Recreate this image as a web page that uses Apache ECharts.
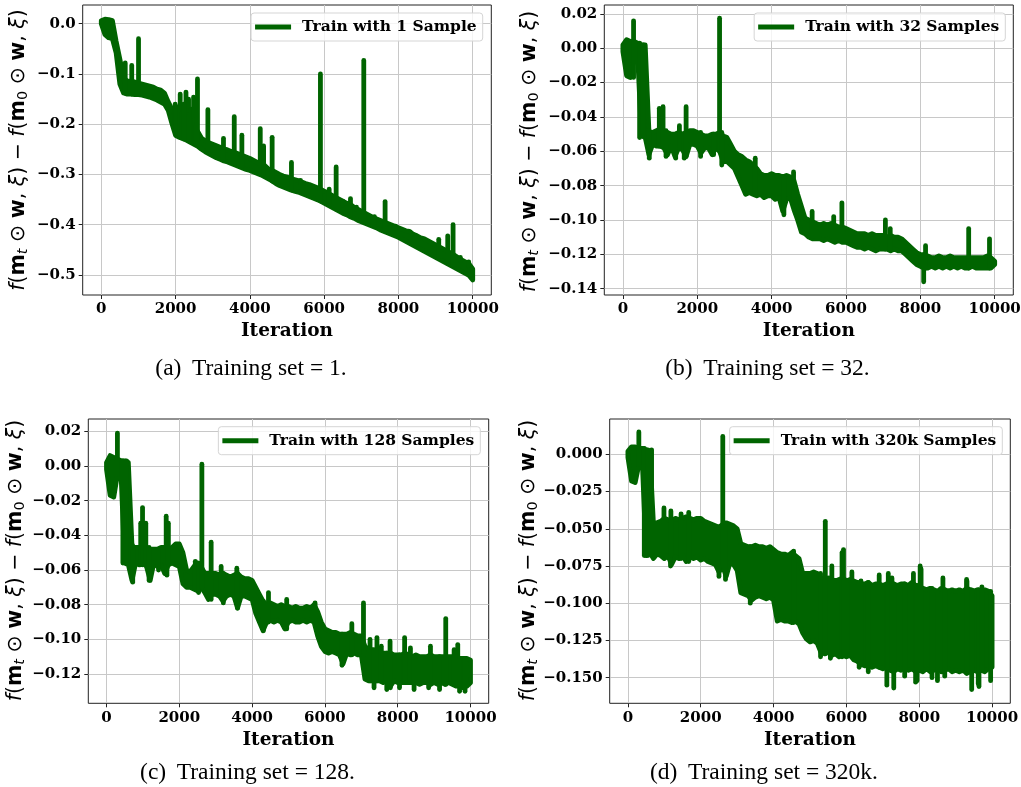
<!DOCTYPE html>
<html>
<head>
<meta charset="utf-8">
<script src="https://cdn.jsdelivr.net/npm/echarts@6/dist/echarts.min.js"></script>
<style>
  html, body { margin: 0; padding: 0; background: #fff; }
  #chart { width: 1021px; height: 787px; }
</style>
</head>
<body>
<div id="chart"></div>
<script>
// loss curves sampled every 100 iterations: upper / lower edge of the noisy band,
// plus single-iteration spikes as [iteration, value]
const iterStep = 100;
const xTicks = [0, 2000, 4000, 6000, 8000, 10000];

const seriesNames = ['Train with 1 Sample', 'Train with 32 Samples', 'Train with 128 Samples', 'Train with 320k Samples'];
const captions = ['(a) \u2009Training set = 1.', '(b) \u2009Training set = 32.', '(c) \u2009Training set = 128.', '(d) \u2009Training set = 320k.'];

const yTicksA = [-0.5, -0.4, -0.3, -0.2, -0.1, 0];
const yTicksB = [-0.14, -0.12, -0.1, -0.08, -0.06, -0.04, -0.02, 0, 0.02];
const yTicksC = [-0.12, -0.1, -0.08, -0.06, -0.04, -0.02, 0, 0.02];
const yTicksD = [-0.15, -0.125, -0.1, -0.075, -0.05, -0.025, 0];

const upperA = [
  0.006, 0.009, 0.008, 0.006, -0.035, -0.07, -0.108, -0.114, -0.115, -0.116,
  -0.118, -0.12, -0.122, -0.124, -0.126, -0.13, -0.132, -0.138, -0.155, -0.17,
  -0.178, -0.182, -0.186, -0.19, -0.195, -0.203, -0.215, -0.228, -0.233, -0.237,
  -0.24, -0.243, -0.246, -0.249, -0.251, -0.254, -0.256, -0.259, -0.262, -0.265,
  -0.268, -0.272, -0.276, -0.28, -0.282, -0.289, -0.292, -0.296, -0.3, -0.303,
  -0.305, -0.308, -0.31, -0.312, -0.315, -0.318, -0.32, -0.323, -0.326, -0.329,
  -0.333, -0.337, -0.341, -0.345, -0.349, -0.353, -0.357, -0.359, -0.365, -0.369,
  -0.373, -0.377, -0.381, -0.385, -0.388, -0.391, -0.394, -0.397, -0.4, -0.403,
  -0.406, -0.409, -0.412, -0.413, -0.419, -0.422, -0.426, -0.428, -0.432, -0.436,
  -0.44, -0.444, -0.448, -0.452, -0.456, -0.46, -0.465, -0.47, -0.474, -0.478,
  -0.488
];
const lowerA = [
  0.0, -0.022, -0.028, -0.03, -0.058, -0.12, -0.138, -0.14, -0.14, -0.141,
  -0.141, -0.142, -0.144, -0.146, -0.149, -0.152, -0.156, -0.16, -0.172, -0.198,
  -0.222, -0.226, -0.229, -0.232, -0.236, -0.24, -0.244, -0.25, -0.255, -0.259,
  -0.263, -0.267, -0.27, -0.273, -0.275, -0.278, -0.281, -0.284, -0.287, -0.29,
  -0.292, -0.295, -0.298, -0.301, -0.305, -0.309, -0.313, -0.318, -0.322, -0.325,
  -0.328, -0.331, -0.333, -0.335, -0.338, -0.341, -0.344, -0.347, -0.35, -0.353,
  -0.357, -0.361, -0.365, -0.369, -0.373, -0.377, -0.38, -0.384, -0.387, -0.391,
  -0.394, -0.397, -0.4, -0.403, -0.406, -0.41, -0.413, -0.416, -0.419, -0.422,
  -0.425, -0.429, -0.433, -0.437, -0.441, -0.445, -0.449, -0.453, -0.457, -0.461,
  -0.465, -0.469, -0.473, -0.477, -0.481, -0.485, -0.489, -0.493, -0.497, -0.501,
  -0.51
];
const spikesA = [
  [645, -0.078], [820, -0.083], [1003, -0.03], [1990, -0.16], [2020, -0.165], [2050, -0.17],
  [2125, -0.14], [2180, -0.175], [2220, -0.16], [2280, -0.136], [2350, -0.15], [2380, -0.18],
  [2420, -0.17], [2485, -0.146], [2530, -0.19], [2560, -0.2], [2590, -0.11], [2650, -0.215],
  [2870, -0.171], [3290, -0.228], [3580, -0.185], [3785, -0.222], [4280, -0.209], [4370, -0.243],
  [4600, -0.226], [5120, -0.276], [5363, -0.316], [5900, -0.1], [6135, -0.329], [6323, -0.285],
  [6502, -0.362], [6709, -0.348], [6870, -0.369], [7067, -0.073], [7354, -0.384], [7641, -0.354],
  [7919, -0.407], [9085, -0.429], [9327, -0.422], [9471, -0.4], [9668, -0.472], [9892, -0.482]
];

const upperB = [
  0.002, 0.005, 0.004, 0.004, 0.003, 0.002, 0.002, -0.048, -0.049, -0.048,
  -0.047, -0.048, -0.049, -0.05, -0.05, -0.049, -0.05, -0.049, -0.048, -0.048,
  -0.049, -0.05, -0.051, -0.051, -0.05, -0.05, -0.049, -0.051, -0.052, -0.056,
  -0.06, -0.062, -0.063, -0.065, -0.066, -0.068, -0.07, -0.073, -0.074, -0.074,
  -0.073, -0.074, -0.074, -0.075, -0.074, -0.075, -0.077, -0.085, -0.092, -0.099,
  -0.1, -0.101, -0.102, -0.103, -0.102, -0.103, -0.102, -0.103, -0.104, -0.104,
  -0.105, -0.106, -0.107, -0.108, -0.108, -0.108, -0.109, -0.108, -0.109, -0.109,
  -0.109, -0.11, -0.109, -0.11, -0.11, -0.111, -0.113, -0.115, -0.117, -0.119,
  -0.12, -0.121, -0.121, -0.122, -0.122, -0.121, -0.122, -0.122, -0.121, -0.122,
  -0.122, -0.122, -0.122, -0.122, -0.122, -0.122, -0.122, -0.122, -0.121, -0.122,
  -0.124
];
const lowerB = [
  -0.002, -0.016, -0.017, -0.006, -0.006, -0.051, -0.052, -0.062, -0.056, -0.057,
  -0.057, -0.058, -0.062, -0.057, -0.063, -0.058, -0.059, -0.063, -0.056, -0.056,
  -0.057, -0.061, -0.058, -0.058, -0.062, -0.058, -0.06, -0.066, -0.066, -0.068,
  -0.07, -0.075, -0.08, -0.085, -0.084, -0.085, -0.086, -0.085, -0.087, -0.086,
  -0.086, -0.088, -0.087, -0.095, -0.088, -0.087, -0.094, -0.1, -0.107, -0.108,
  -0.11, -0.111, -0.111, -0.111, -0.112, -0.111, -0.112, -0.113, -0.112, -0.113,
  -0.113, -0.114, -0.115, -0.116, -0.116, -0.117, -0.116, -0.117, -0.118, -0.117,
  -0.117, -0.117, -0.118, -0.117, -0.118, -0.118, -0.12, -0.122, -0.124, -0.126,
  -0.127, -0.128, -0.128, -0.127, -0.128, -0.127, -0.128, -0.127, -0.128, -0.127,
  -0.128, -0.127, -0.128, -0.128, -0.127, -0.128, -0.128, -0.128, -0.128, -0.128,
  -0.126
];
const spikesB = [
  [287, 0.016], [450, -0.052], [550, -0.05], [650, 0.002], [710, -0.064], [980, -0.035],
  [1080, -0.034], [1160, -0.063], [1420, -0.064], [1520, -0.045], [1650, -0.064], [1700, -0.034],
  [2090, -0.063], [2440, -0.062], [2600, 0.0175], [2660, -0.068], [3560, -0.064], [4330, -0.097],
  [4590, -0.072], [5090, -0.095], [5670, -0.098], [5890, -0.09], [7060, -0.1], [7190, -0.105],
  [8090, -0.136], [8140, -0.115], [9300, -0.105], [9860, -0.111]
];

const upperC = [
  0.002, 0.006, 0.005, 0.004, 0.003, 0.003, 0.002, -0.046, -0.047, -0.047,
  -0.048, -0.047, -0.048, -0.048, -0.048, -0.047, -0.047, -0.048, -0.047, -0.045,
  -0.045, -0.05, -0.06, -0.061, -0.058, -0.056, -0.058, -0.062, -0.062, -0.062,
  -0.062, -0.063, -0.062, -0.063, -0.064, -0.063, -0.062, -0.064, -0.065, -0.065,
  -0.066, -0.07, -0.074, -0.078, -0.08, -0.079, -0.08, -0.081, -0.08, -0.081,
  -0.081, -0.082, -0.081, -0.082, -0.082, -0.081, -0.082, -0.08, -0.084, -0.09,
  -0.094, -0.095, -0.096, -0.096, -0.097, -0.097, -0.097, -0.096, -0.097, -0.098,
  -0.098, -0.104, -0.106, -0.106, -0.107, -0.108, -0.108, -0.108, -0.108, -0.109,
  -0.109, -0.109, -0.108, -0.109, -0.11, -0.109, -0.11, -0.11, -0.11, -0.109,
  -0.11, -0.11, -0.11, -0.11, -0.11, -0.11, -0.111, -0.111, -0.111, -0.111,
  -0.112
];
const lowerC = [
  -0.002, -0.017, -0.018, -0.005, -0.005, -0.056, -0.057, -0.066, -0.056, -0.057,
  -0.056, -0.058, -0.066, -0.056, -0.058, -0.057, -0.062, -0.057, -0.056, -0.057,
  -0.058, -0.068, -0.07, -0.07, -0.071, -0.072, -0.07, -0.073, -0.077, -0.074,
  -0.074, -0.075, -0.078, -0.075, -0.074, -0.075, -0.082, -0.075, -0.075, -0.076,
  -0.077, -0.085, -0.09, -0.095, -0.09, -0.089, -0.09, -0.089, -0.09, -0.094,
  -0.09, -0.089, -0.09, -0.09, -0.089, -0.09, -0.089, -0.09, -0.098, -0.104,
  -0.107, -0.108, -0.107, -0.108, -0.109, -0.114, -0.108, -0.109, -0.108, -0.109,
  -0.109, -0.123, -0.124, -0.124, -0.124, -0.124, -0.125, -0.124, -0.127, -0.124,
  -0.125, -0.125, -0.125, -0.125, -0.125, -0.125, -0.126, -0.125, -0.125, -0.126,
  -0.125, -0.126, -0.125, -0.126, -0.125, -0.126, -0.127, -0.126, -0.128, -0.127,
  -0.125
];
const spikesC = [
  [300, 0.019], [450, -0.056], [550, -0.056], [650, 0.002], [720, -0.067], [940, -0.033],
  [990, -0.024], [1080, -0.033], [1170, -0.066], [1430, -0.06], [1640, -0.029], [1660, -0.063],
  [1700, -0.033], [2440, -0.055], [2530, -0.073], [2620, 0.001], [2875, -0.044], [3150, -0.058],
  [3210, -0.079], [3580, -0.059], [3600, -0.082], [4310, -0.095], [4450, -0.073], [4950, -0.077],
  [5730, -0.079], [6470, -0.115], [6740, -0.091], [7060, -0.079], [7240, -0.1], [7350, -0.128],
  [7430, -0.099], [7550, -0.104], [7700, -0.129], [7790, -0.101], [7800, -0.128], [8050, -0.128],
  [8190, -0.099], [8350, -0.105], [8450, -0.129], [8850, -0.128], [8900, -0.104], [9150, -0.129],
  [9320, -0.088], [9550, -0.106], [9650, -0.103], [9700, -0.13], [9850, -0.13]
];

const upperD = [
  0.002, 0.005, 0.005, 0.004, 0.004, 0.003, 0.002, -0.046, -0.046, -0.045,
  -0.043, -0.044, -0.045, -0.043, -0.044, -0.043, -0.042, -0.043, -0.044, -0.043,
  -0.043, -0.045, -0.046, -0.047, -0.048, -0.049, -0.047, -0.046, -0.047, -0.048,
  -0.05, -0.06, -0.061, -0.062, -0.062, -0.061, -0.062, -0.062, -0.063, -0.062,
  -0.064, -0.066, -0.067, -0.067, -0.068, -0.066, -0.068, -0.07, -0.08, -0.08,
  -0.08, -0.079, -0.08, -0.083, -0.084, -0.083, -0.084, -0.085, -0.084, -0.083,
  -0.085, -0.084, -0.085, -0.086, -0.087, -0.087, -0.086, -0.088, -0.087, -0.087,
  -0.088, -0.087, -0.088, -0.087, -0.088, -0.087, -0.087, -0.088, -0.086, -0.088,
  -0.089, -0.09, -0.091, -0.09, -0.091, -0.092, -0.09, -0.091, -0.092, -0.091,
  -0.092, -0.091, -0.092, -0.09, -0.091, -0.092, -0.091, -0.092, -0.091, -0.092,
  -0.095
];
const lowerD = [
  -0.002, -0.018, -0.019, -0.007, -0.008, -0.068, -0.066, -0.07, -0.067, -0.068,
  -0.07, -0.068, -0.074, -0.069, -0.07, -0.068, -0.072, -0.069, -0.07, -0.069,
  -0.071, -0.07, -0.072, -0.073, -0.074, -0.079, -0.075, -0.082, -0.073, -0.074,
  -0.078, -0.093, -0.094, -0.095, -0.098, -0.096, -0.095, -0.096, -0.097, -0.096,
  -0.098, -0.112, -0.111, -0.112, -0.112, -0.113, -0.112, -0.114, -0.12, -0.124,
  -0.126, -0.125, -0.127, -0.133, -0.134, -0.133, -0.135, -0.134, -0.136, -0.135,
  -0.136, -0.135, -0.138, -0.139, -0.141, -0.142, -0.14, -0.143, -0.142, -0.143,
  -0.144, -0.143, -0.145, -0.146, -0.144, -0.145, -0.143, -0.145, -0.144, -0.146,
  -0.145, -0.146, -0.144, -0.146, -0.145, -0.144, -0.146, -0.145, -0.144, -0.146,
  -0.145, -0.146, -0.145, -0.147, -0.146, -0.145, -0.146, -0.145, -0.146, -0.144,
  -0.143
];
const spikesD = [
  [300, 0.015], [450, -0.068], [550, -0.068], [650, 0.003], [990, -0.036], [1170, -0.075],
  [1180, -0.038], [1460, -0.04], [1670, -0.039], [2500, -0.082], [2605, 0.012], [2680, -0.084],
  [3360, -0.1], [4550, -0.065], [5290, -0.136], [5420, -0.045], [5560, -0.137], [5600, -0.075],
  [5880, -0.066], [5920, -0.064], [6150, -0.079], [6350, -0.143], [6400, -0.085], [6600, -0.146],
  [6900, -0.081], [7110, -0.155], [7150, -0.08], [7250, -0.083], [7300, -0.157], [7600, -0.149],
  [7840, -0.08], [7900, -0.153], [7940, -0.152], [8025, -0.075], [8050, -0.077], [8350, -0.15],
  [8500, -0.152], [8650, -0.083], [8700, -0.149], [9300, -0.084], [9310, -0.085], [9440, -0.158],
  [9620, -0.154], [9640, -0.156], [9720, -0.089], [9960, -0.152]
];

const panels = [
  { upper: upperA, lower: lowerA, spikes: spikesA, yTicks: yTicksA, yMin: -0.5398, yMax: 0.0372, dec: 1 },
  { upper: upperB, lower: lowerB, spikes: spikesB, yTicks: yTicksB, yMin: -0.1437, yMax: 0.0252, dec: 2 },
  { upper: upperC, lower: lowerC, spikes: spikesC, yTicks: yTicksC, yMin: -0.1369, yMax: 0.0271, dec: 2 },
  { upper: upperD, lower: lowerD, spikes: spikesD, yTicks: yTicksD, yMin: -0.1672, yMax: 0.0237, dec: 3 }
];

const grids = [
  { left: 82.7, top: 5, width: 408.6, height: 290 },
  { left: 604.3, top: 5, width: 409, height: 290 },
  { left: 88.3, top: 419, width: 400.4, height: 284.3 },
  { left: 609.7, top: 419, width: 400.6, height: 284.3 }
];
const legendPos = [
  { right: 538.3, top: 13 },
  { right: 15.7, top: 13 },
  { right: 540.7, top: 426.7 },
  { right: 18.7, top: 426.7 }
];
const yLabelPos = [[19, 150], [529.5, 151.5], [16, 560.5], [529, 560.5]];
const captionPos = [[251, 369], [767.5, 369], [247.5, 773], [764, 773]];

const GREEN = '#006400';
const LINE_W = 4.8;
const tickFont = { fontFamily: 'DejaVu Serif', fontWeight: 'bold', fontSize: 15, color: '#000' };

const yLabelText = '{i|f}({b|m}{st|t} \u2299 {b|w}, {i|\u03be}) \u2212 {i|f}({b|m}{s0|0} \u2299 {b|w}, {i|\u03be})';
const yLabelRich = {
  i: { fontFamily: 'DejaVu Sans', fontSize: 20.5, fontStyle: 'italic', lineHeight: 24 },
  b: { fontFamily: 'DejaVu Sans', fontSize: 20.5, fontWeight: 'bold', lineHeight: 24 },
  st: { fontFamily: 'DejaVu Sans', fontSize: 14.5, fontStyle: 'italic', lineHeight: 13, verticalAlign: 'bottom' },
  s0: { fontFamily: 'DejaVu Sans', fontSize: 14.5, lineHeight: 13, verticalAlign: 'bottom' }
};

const fmtY = dec => v => (v < 0 ? '\u2212' : '') + Math.abs(v).toFixed(dec);

// noisy band drawn as one thick-stroked polygon, spikes as thick vertical strokes
function bandRenderer(p) {
  return function (params, api) {
    if (params.dataIndex !== 0) return null;
    const top = p.upper.map((u, k) => api.coord([k * iterStep, u]));
    const bottom = p.lower.map((l, k) => api.coord([k * iterStep, l])).reverse();
    const children = [{
      type: 'polygon',
      shape: { points: top.concat(bottom) },
      style: { fill: GREEN, stroke: GREEN, lineWidth: LINE_W, lineJoin: 'round' }
    }];
    p.spikes.forEach(s => {
      const k = Math.min(Math.floor(s[0] / iterStep), p.upper.length - 1);
      const base = s[1] > p.upper[k] ? p.lower[k] : p.upper[k];
      const a = api.coord([s[0], base]);
      const b = api.coord([s[0], s[1]]);
      children.push({
        type: 'line',
        shape: { x1: a[0], y1: a[1], x2: b[0], y2: b[1] },
        style: { stroke: GREEN, lineWidth: LINE_W, lineCap: 'round' }
      });
    });
    return { type: 'group', children: children };
  };
}

const chart = echarts.init(document.getElementById('chart'), null, { renderer: 'canvas' });

chart.setOption({
  animation: false,
  backgroundColor: '#fff',
  grid: grids.map(g => ({
    left: g.left, top: g.top, width: g.width, height: g.height,
    show: true, borderColor: '#222', borderWidth: 1, backgroundColor: 'transparent',
    containLabel: false, outerBoundsMode: 'none'
  })),
  xAxis: panels.map((p, i) => ({
    type: 'value', gridIndex: i, min: -500, max: 10500,
    name: 'Iteration', nameLocation: 'middle', nameGap: 27, nameMoveOverlap: false,
    nameTextStyle: { fontFamily: 'DejaVu Serif', fontWeight: 'bold', fontSize: 18.5, color: '#000' },
    axisLine: { show: false, onZero: false },
    axisTick: { show: true, inside: false, length: 4, customValues: xTicks, lineStyle: { color: '#222', width: 1 } },
    axisLabel: Object.assign({ customValues: xTicks, margin: 7, formatter: v => String(v) }, tickFont),
    splitLine: { show: true, lineStyle: { color: '#c8c8c8', width: 1 } }
  })),
  yAxis: panels.map((p, i) => ({
    type: 'value', gridIndex: i, min: p.yMin, max: p.yMax,
    axisLine: { show: false, onZero: false },
    axisTick: { show: true, inside: false, length: 4, customValues: p.yTicks, lineStyle: { color: '#222', width: 1 } },
    axisLabel: Object.assign({ customValues: p.yTicks, margin: 7, formatter: fmtY(p.dec) }, tickFont),
    splitLine: { show: true, lineStyle: { color: '#c8c8c8', width: 1 } }
  })),
  legend: seriesNames.map((name, i) => ({
    data: [name], right: legendPos[i].right, top: legendPos[i].top,
    icon: 'rect', itemWidth: 36, itemHeight: 5, selectedMode: false,
    padding: [6, 6, 6, 4],
    backgroundColor: 'rgba(255,255,255,0.8)', borderColor: '#d5d5d5', borderWidth: 1, borderRadius: 3,
    textStyle: { fontFamily: 'DejaVu Serif', fontWeight: 'bold', fontSize: 15.5, color: '#000', padding: [0, 0, 0, 6] }
  })),
  series: panels.map((p, i) => ({
    type: 'custom', name: seriesNames[i], xAxisIndex: i, yAxisIndex: i,
    data: p.upper.map((u, k) => [k * iterStep, u, p.lower[k]]),
    encode: { x: 0, y: [1, 2] },
    renderItem: bandRenderer(p),
    itemStyle: { color: GREEN },
    silent: true, clip: true
  })),
  graphic: [
    ...yLabelPos.map(([x, y]) => ({
      type: 'text', x: x, y: y, rotation: Math.PI / 2, silent: true,
      style: {
        text: yLabelText, fontFamily: 'DejaVu Sans', fontSize: 20.5, lineHeight: 24,
        fill: '#000', align: 'center', verticalAlign: 'middle', rich: yLabelRich
      }
    })),
    ...captionPos.map(([x, y], i) => ({
      type: 'text', x: x, y: y, silent: true,
      style: {
        text: captions[i], fontFamily: 'Liberation Serif', fontSize: 23.5,
        fill: '#000', align: 'center', verticalAlign: 'middle'
      }
    }))
  ]
});
</script>
</body>
</html>
